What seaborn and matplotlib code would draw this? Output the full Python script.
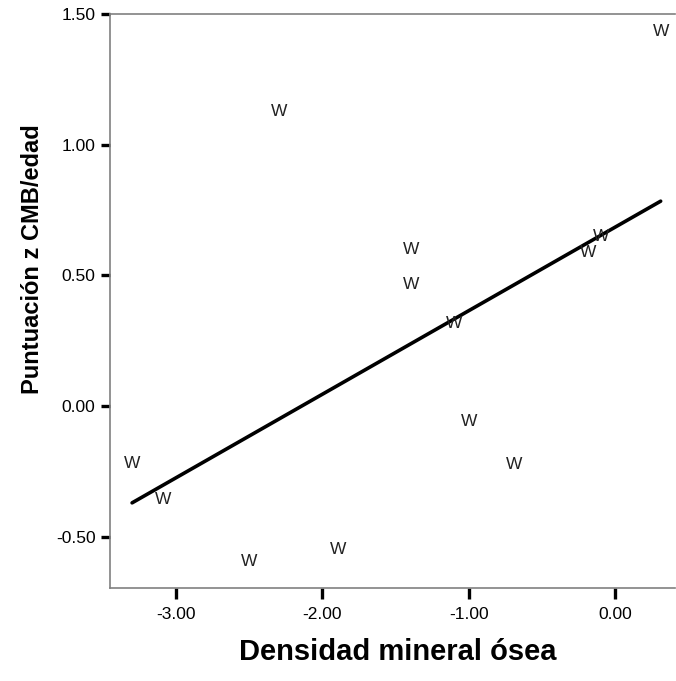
import matplotlib
matplotlib.use("Agg")
import matplotlib.pyplot as plt
import seaborn as sns
import pandas as pd

# Data
densidad = [0.312, -2.297, -1.394, -1.394, -1.100, -0.098, -0.185,
            -1.000, -0.690, -3.301, -3.092, -2.500, -1.893]
puntuacion_z = [1.415, 1.108, 0.582, 0.446, 0.298, 0.633, 0.569,
                -0.077, -0.243, -0.238, -0.377, -0.613, -0.567]
x_ticks = [-3.0, -2.0, -1.0, 0.0]
y_ticks = [-0.5, 0.0, 0.5, 1.0, 1.5]
x_label = "Densidad mineral ósea"
y_label = "Puntuación z CMB/edad"
marker_text = "W"

df = pd.DataFrame({"x": densidad, "y": puntuacion_z})

sns.set_theme(style="white")
plt.rcParams["font.family"] = ["Liberation Sans", "DejaVu Sans"]

W, H = 676, 681
fig = plt.figure(figsize=(W / 100, H / 100), dpi=100)
ax = fig.add_axes([110 / W, (H - 588) / H, (675 - 110) / W, (588 - 14) / H])

sns.regplot(data=df, x="x", y="y", ax=ax, ci=None, truncate=True,
            scatter_kws={"s": 0, "alpha": 0},
            line_kws={"color": "black", "linewidth": 2.6})

for xv, yv in zip(df["x"], df["y"]):
    ax.text(xv, yv, marker_text, ha="center", va="baseline",
            fontsize=12.5, color="#222222")

ax.set_xlim(-3.452, 0.41)
ax.set_ylim(-0.697, 1.5)
ax.set_xticks(x_ticks)
ax.set_yticks(y_ticks)
ax.set_xticklabels([f"{v:.2f}" for v in x_ticks])
ax.set_yticklabels([f"{v:.2f}" for v in y_ticks])

ax.tick_params(axis="x", direction="out", length=8, width=2.4, color="black",
               labelsize=12.5, labelcolor="black", pad=6, bottom=True)
ax.tick_params(axis="y", direction="out", length=6.5, width=2.4, color="black",
               labelsize=12.5, labelcolor="black", pad=4, left=True)

for side in ["top", "left", "bottom"]:
    ax.spines[side].set_visible(True)
    ax.spines[side].set_color("#808080")
    ax.spines[side].set_linewidth(1.2)
ax.spines["right"].set_visible(False)

ax.set_xlabel(x_label, fontsize=21, fontweight="bold", color="black", va="center")
ax.set_ylabel(y_label, fontsize=17, fontweight="bold", color="black", va="center")
ax.xaxis.set_label_coords((398 - 110) / 565, (588 - 652) / 574)
ax.yaxis.set_label_coords((33 - 110) / 565, (588 - 259) / 574)

fig.savefig("out.png", dpi=100)
